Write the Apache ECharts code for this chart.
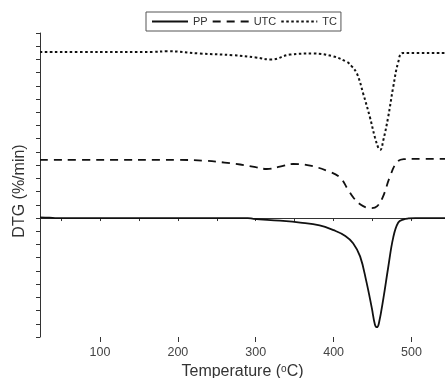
<!DOCTYPE html>
<html>
<head>
<meta charset="utf-8">
<script src="https://cdn.jsdelivr.net/npm/echarts@6/dist/echarts.min.js"></script>
<style>html,body{margin:0;padding:0;background:#fff}#c{width:445px;height:378px}</style>
</head>
<body>
<div id="c"></div>
<script>
const seriesNames = ['PP', 'UTC', 'TC'];
const xTickValues = [100, 200, 300, 400, 500];
const xAllTickValues = [50, 100, 150, 200, 250, 300, 350, 400, 450, 500];
const ppData = [[23,0.05],[35,0.03],[45,0],[100,0],[200,0],[290,0],[297,-0.06],[331,-0.2],[357,-0.34],[382,-0.55],[400,-0.92],[415,-1.35],[425,-1.9],[434,-2.9],[442,-4.79],[449,-6.8],[453,-8.05],[455.5,-8.26],[458,-8.0],[464,-6.04],[470,-3.76],[476.5,-1.48],[483,-0.34],[490,-0.1],[496,-0.03],[505,0],[545,0]];
const utcData = [[23,4.4],[100,4.4],[200,4.4],[233,4.34],[260,4.2],[280,4.05],[300,3.85],[314,3.71],[331,3.89],[348,4.09],[370,3.96],[391,3.58],[408,3.08],[418,2.2],[426,1.5],[435,1.0],[442,0.8],[449,0.75],[456,0.9],[463,1.56],[472,3.08],[481,4.21],[490,4.45],[500,4.47],[545,4.47]];
const tcData = [[23,12.57],[100,12.57],[168,12.57],[186,12.62],[228,12.45],[271,12.32],[300,12.15],[320,11.99],[344,12.37],[374,12.45],[399,12.24],[417,11.81],[423,11.5],[430,10.93],[438,9.41],[446.6,7.63],[453,6.11],[458,5.23],[460,5.16],[463.7,5.86],[470,7.63],[476.5,9.91],[483,11.81],[489,12.49],[545,12.49]];

const chart = echarts.init(document.getElementById('c'));
const font = 'Liberation Sans, Arial, sans-serif';
chart.setOption({
  animation: false,
  backgroundColor: '#fff',
  textStyle: { fontFamily: font },
  grid: { left: 40, top: 33, right: 0, bottom: 41, containLabel: false, outerBoundsMode: 'none' },
  legend: {
    left: 146, top: 12,
    data: seriesNames,
    itemWidth: 36, itemHeight: 10, itemGap: 4,
    padding: [4, 4, 4, 5],
    borderColor: '#555', borderWidth: 1,
    itemStyle: { opacity: 0 },
    textStyle: { fontFamily: 'Liberation Sans Narrow, Liberation Sans, sans-serif', fontSize: 11, color: '#333' }
  },
  xAxis: [{
    type: 'value', min: 23, max: 543,
    name: 'Temperature ({s|o}C)',
    nameLocation: 'middle', nameGap: 23,
    nameTextStyle: { fontSize: 16, lineHeight: 16, color: '#333', rich: { s: { fontSize: 10, lineHeight: 16, verticalAlign: 'top', color: '#333' } } },
    axisLine: { lineStyle: { color: '#333', width: 1 } },
    axisTick: { customValues: xAllTickValues, length: 3, lineStyle: { color: '#333' } },
    axisLabel: { customValues: xTickValues, fontSize: 12.5, color: '#444', margin: 9 },
    splitLine: { show: false }
  }, {
    type: 'value', min: 23, max: 543, position: 'bottom',
    axisLine: { show: false },
    axisTick: { customValues: xTickValues, length: 5, lineStyle: { color: '#333' } },
    axisLabel: { show: false },
    splitLine: { show: false }
  }],
  yAxis: {
    type: 'value', min: -9, max: 14, interval: 1,
    name: 'DTG (%/min)',
    nameLocation: 'middle', nameGap: 12,
    nameTextStyle: { fontSize: 16, color: '#333', padding: [0, 12, 0, 0] },
    axisLine: { show: true, lineStyle: { color: '#333', width: 1 } },
    axisTick: { show: true, length: 4, lineStyle: { color: '#333' } },
    axisLabel: { show: false },
    splitLine: { show: false }
  },
  series: [
    { name: 'PP', type: 'line', data: ppData, smooth: 0.4, showSymbol: false, symbol: 'none',
      lineStyle: { color: '#111', width: 1.8, type: 'solid' }, itemStyle: { color: '#111' } },
    { name: 'UTC', type: 'line', data: utcData, smooth: 0.4, showSymbol: false, symbol: 'none',
      lineStyle: { color: '#111', width: 1.8, type: [8, 6] }, itemStyle: { color: '#111' } },
    { name: 'TC', type: 'line', data: tcData, smooth: 0.4, showSymbol: false, symbol: 'none',
      lineStyle: { color: '#111', width: 2, type: [2.5, 2.5] }, itemStyle: { color: '#111' } }
  ]
});
</script>
</body>
</html>
